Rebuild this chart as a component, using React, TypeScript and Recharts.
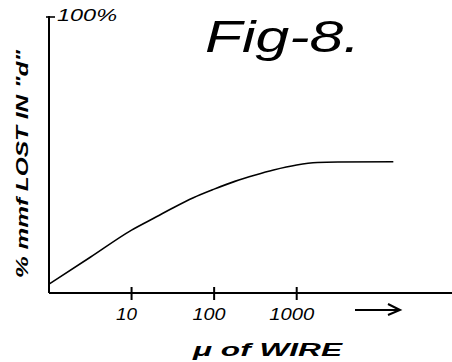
import React from "react";
import { LineChart, Line, XAxis, YAxis, Customized } from "recharts";

// permeability of wire (log scale) vs % mmf lost in "d"
const muValues = [1, 3.16, 10, 20, 31.6, 56, 100, 178, 316, 524, 1000, 1780, 3160, 14800];
const lossPct = [3.2, 12.9, 22.7, 27.5, 30.7, 34.4, 37.5, 40.3, 42.6, 44.4, 46.2, 47.1, 47.3, 47.4];
const xTicks = [10, 100, 1000];
const xTickLabels = ["10", "100", "1000"];
const yTicks = [100];
const yTickLabels = ["100%"];

const data = muValues.map((mu, i) => ({ mu, pct: lossPct[i] }));

const FONT = "'Liberation Sans', 'DejaVu Sans', sans-serif";
const AXIS_Y = 293;

const XTick = (props: any) => {
  const { x, payload } = props;
  const idx = xTicks.indexOf(payload.value);
  const label = idx >= 0 ? xTickLabels[idx] : String(payload.value);
  const w = [21, 33, 45][idx] ?? 30;
  return (
    <g>
      <path d={`M${x} ${AXIS_Y - 6} L${x} ${AXIS_Y + 7}`} stroke="#000" strokeWidth={2} fill="none" />
      <text
        x={x - 5}
        y={AXIS_Y + 27}
        textAnchor="middle"
        fontFamily={FONT}
        fontStyle="italic"
        fontSize={17}
        textLength={w}
        lengthAdjust="spacingAndGlyphs"
        fill="#000"
      >
        {label}
      </text>
    </g>
  );
};

const YTick = (props: any) => {
  const { x, y, payload } = props;
  const idx = yTicks.indexOf(payload.value);
  const label = idx >= 0 ? yTickLabels[idx] : String(payload.value);
  return (
    <g>
      <path d={`M${x - 3} ${y + 1} L${x + 6} ${y + 1}`} stroke="#000" strokeWidth={1.6} fill="none" />
      <text
        x={x + 8}
        y={y + 5}
        fontFamily={FONT}
        fontStyle="italic"
        fontSize={16}
        textLength={60}
        lengthAdjust="spacingAndGlyphs"
        fill="#000"
      >
        {label}
      </text>
    </g>
  );
};

const Decorations = () => (
  <g>
    <text
      x={205}
      y={52}
      fontFamily={FONT}
      fontStyle="italic"
      fontSize={44}
      textLength={155}
      lengthAdjust="spacingAndGlyphs"
      fill="#000"
    >
      Fig-8.
    </text>
    <text
      transform="translate(28,164) rotate(-90)"
      textAnchor="middle"
      fontFamily={FONT}
      fontStyle="italic"
      fontWeight="bold"
      fontSize={17}
      textLength={228}
      lengthAdjust="spacingAndGlyphs"
      fill="#000"
    >
      % mmf LOST IN "d"
    </text>
    <path d="M355 310 L399 310" stroke="#000" strokeWidth={2} />
    <path d="M388 304 L400 310 L388 315" stroke="#000" strokeWidth={2} fill="none" />
    <text
      x={193}
      y={356}
      fontFamily={FONT}
      fontStyle="italic"
      fontWeight="bold"
      fontSize={18}
      textLength={149}
      lengthAdjust="spacingAndGlyphs"
      fill="#000"
    >
      μ of WIRE
    </text>
  </g>
);

export default function App() {
  return (
    <div style={{ position: "absolute", left: 0, top: 0, width: 452, height: 362, background: "#fff" }}>
      <LineChart
        width={452}
        height={362}
        data={data}
        margin={{ top: 16, right: 0, left: 0, bottom: 0 }}
      >
        <XAxis
          dataKey="mu"
          type="number"
          scale="log"
          domain={[1, 76000]}
          allowDataOverflow
          ticks={xTicks}
          height={69}
          tickSize={0}
          tickMargin={0}
          tickLine={false}
          axisLine={{ stroke: "#000", strokeWidth: 2 }}
          tick={<XTick />}
          interval={0}
        />
        <YAxis
          type="number"
          domain={[0, 100]}
          ticks={yTicks}
          width={49}
          tickSize={0}
          tickMargin={0}
          tickLine={false}
          axisLine={{ stroke: "#000", strokeWidth: 2 }}
          tick={<YTick />}
          interval={0}
        />
        <Line
          dataKey="pct"
          type="monotone"
          stroke="#000"
          strokeWidth={1.6}
          dot={false}
          isAnimationActive={false}
        />
        <Customized component={Decorations} />
      </LineChart>
    </div>
  );
}
